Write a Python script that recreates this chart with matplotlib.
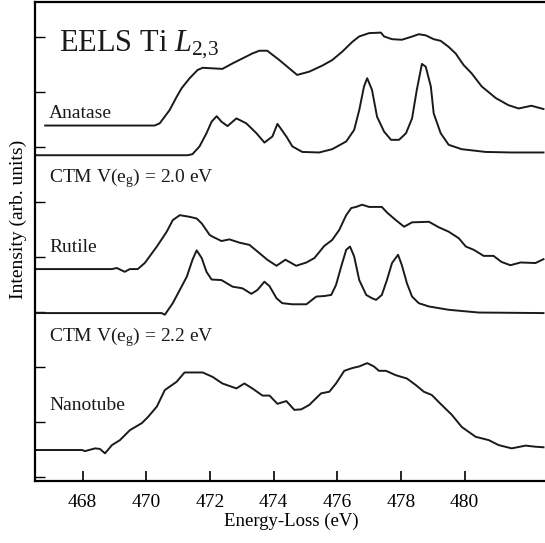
import matplotlib
matplotlib.use("Agg")
import matplotlib.pyplot as plt

# Ti L2,3 EELS spectra, energy in eV, intensity in arb. units (already offset)
anatase_e = [466.82, 470.26, 470.42, 470.73, 470.95, 471.11, 471.36, 471.61, 471.77, 472.08,
             472.39, 472.71, 473.02, 473.33, 473.55, 473.80, 474.18, 474.49, 474.74, 475.12,
             475.53, 475.84, 476.15, 476.47, 476.69, 477.00, 477.37, 477.47, 477.72, 478.03,
             478.31, 478.56, 478.78, 479.03, 479.25, 479.50, 479.72, 479.97, 480.22, 480.54,
             480.98, 481.38, 481.70, 482.10, 482.48]
anatase_i = [6.39, 6.39, 6.43, 6.67, 6.91, 7.07, 7.25, 7.40, 7.44, 7.43,
             7.42, 7.52, 7.61, 7.70, 7.75, 7.75, 7.58, 7.43, 7.31, 7.37,
             7.48, 7.58, 7.73, 7.91, 8.01, 8.07, 8.08, 8.01, 7.96, 7.95,
             8.00, 8.05, 8.03, 7.96, 7.93, 7.82, 7.70, 7.49, 7.34, 7.10,
             6.89, 6.76, 6.70, 6.75, 6.69]

ctm_anatase_e = [466.51, 471.30, 471.45, 471.67, 471.89, 472.05, 472.21, 472.36, 472.55, 472.83,
                 473.14, 473.46, 473.71, 473.96, 474.12, 474.40, 474.59, 474.90, 475.43, 475.84,
                 476.28, 476.53, 476.69, 476.84, 476.94, 477.09, 477.25, 477.47, 477.69, 477.94,
                 478.16, 478.35, 478.50, 478.66, 478.78, 478.94, 479.03, 479.25, 479.50, 479.91,
                 480.66, 481.48, 482.48]
ctm_anatase_i = [5.85, 5.85, 5.87, 6.01, 6.25, 6.46, 6.56, 6.46, 6.38, 6.52,
                 6.43, 6.25, 6.08, 6.19, 6.42, 6.19, 6.01, 5.91, 5.90, 5.96,
                 6.10, 6.31, 6.67, 7.10, 7.25, 7.04, 6.55, 6.28, 6.13, 6.13,
                 6.25, 6.52, 7.04, 7.51, 7.46, 7.10, 6.61, 6.25, 6.04, 5.96,
                 5.91, 5.90, 5.90]

rutile_e = [466.51, 468.92, 469.07, 469.32, 469.48, 469.73, 469.95, 470.33, 470.64, 470.83,
            471.05, 471.36, 471.58, 471.74, 471.99, 472.08, 472.36, 472.61, 472.93, 473.24,
            473.49, 473.80, 474.09, 474.37, 474.71, 475.03, 475.28, 475.59, 475.84, 476.06,
            476.28, 476.44, 476.59, 476.78, 477.00, 477.40, 477.56, 477.84, 478.10, 478.35,
            478.88, 479.19, 479.50, 479.82, 480.04, 480.29, 480.60, 480.91, 481.16, 481.44,
            481.76, 482.23, 482.48]
rutile_i = [3.78, 3.78, 3.80, 3.73, 3.78, 3.78, 3.89, 4.19, 4.46, 4.67,
            4.76, 4.73, 4.70, 4.61, 4.40, 4.37, 4.29, 4.32, 4.26, 4.22,
            4.10, 3.95, 3.84, 3.95, 3.84, 3.90, 3.98, 4.20, 4.31, 4.49,
            4.76, 4.89, 4.91, 4.95, 4.91, 4.91, 4.81, 4.67, 4.55, 4.63,
            4.64, 4.54, 4.46, 4.34, 4.19, 4.13, 4.02, 4.02, 3.91, 3.85,
            3.90, 3.89, 3.96]

ctm_rutile_e = [466.51, 470.48, 470.58, 470.83, 471.05, 471.27, 471.45, 471.58, 471.74, 471.89,
                472.05, 472.36, 472.71, 473.02, 473.30, 473.49, 473.71, 473.87, 474.09, 474.27,
                474.59, 475.03, 475.34, 475.59, 475.81, 475.96, 476.12, 476.28, 476.40, 476.53,
                476.69, 476.91, 477.09, 477.22, 477.40, 477.56, 477.72, 477.91, 478.03, 478.19,
                478.35, 478.56, 478.88, 479.50, 480.44, 482.48]
ctm_rutile_i = [2.98, 2.98, 2.95, 3.16, 3.40, 3.64, 3.95, 4.12, 3.98, 3.73,
                3.59, 3.58, 3.46, 3.43, 3.33, 3.40, 3.55, 3.47, 3.25, 3.16,
                3.14, 3.14, 3.28, 3.29, 3.31, 3.49, 3.82, 4.13, 4.19, 4.01,
                3.58, 3.31, 3.25, 3.22, 3.31, 3.58, 3.89, 4.04, 3.85, 3.52,
                3.28, 3.16, 3.10, 3.04, 2.99, 2.98]

nanotube_e = [466.51, 467.98, 468.07, 468.39, 468.54, 468.70, 468.92, 469.17, 469.48, 469.86,
              470.05, 470.33, 470.58, 470.95, 471.20, 471.45, 471.77, 472.08, 472.39, 472.83,
              473.08, 473.33, 473.65, 473.87, 474.12, 474.40, 474.65, 474.87, 475.12, 475.49,
              475.75, 475.96, 476.22, 476.47, 476.69, 476.94, 477.15, 477.31, 477.53, 477.84,
              478.19, 478.47, 478.72, 478.97, 479.28, 479.60, 479.91, 480.35, 480.76, 481.07,
              481.48, 481.92, 482.23, 482.48]
nanotube_i = [0.49, 0.49, 0.47, 0.52, 0.51, 0.43, 0.58, 0.67, 0.85, 0.98,
              1.09, 1.28, 1.58, 1.73, 1.90, 1.90, 1.90, 1.82, 1.70, 1.61,
              1.70, 1.61, 1.48, 1.48, 1.33, 1.38, 1.22, 1.23, 1.31, 1.52,
              1.55, 1.70, 1.93, 1.98, 2.01, 2.07, 2.01, 1.93, 1.93, 1.85,
              1.79, 1.67, 1.55, 1.49, 1.31, 1.13, 0.91, 0.73, 0.67, 0.58,
              0.52, 0.57, 0.55, 0.54]

x_ticks = [468, 470, 472, 474, 476, 478, 480]
y_ticks = [0, 1, 2, 3, 4, 5, 6, 7, 8]

labels = ["Anatase", "CTM V(e$_\\mathregular{g}$) = 2.0 eV", "Rutile",
          "CTM V(e$_\\mathregular{g}$) = 2.2 eV", "Nanotube"]
label_y = [6.52, 5.35, 4.09, 2.46, 1.22]

plt.rcParams["font.family"] = "Liberation Serif"
plt.rcParams["mathtext.fontset"] = "custom"
plt.rcParams["mathtext.rm"] = "Liberation Serif"
plt.rcParams["mathtext.it"] = "Liberation Serif:italic"

fig = plt.figure(figsize=(5.45, 5.43), dpi=100)
ax = fig.add_axes([0.0642, 0.1133, 0.94, 0.883])

line_kw = dict(color="#1a1a1a", lw=1.4)
for e, i in [(anatase_e, anatase_i), (ctm_anatase_e, ctm_anatase_i),
             (rutile_e, rutile_i), (ctm_rutile_e, ctm_rutile_i),
             (nanotube_e, nanotube_i)]:
    ax.plot(e, i, **line_kw)

for txt, y in zip(labels, label_y):
    ax.text(466.95, y, txt, fontsize=14, color="#1a1a1a", va="baseline")

ax.text(467.27, 7.74, "EELS Ti $\\mathit{L}_{2{,}3}$", fontsize=22, color="#1a1a1a",
        va="baseline")

ax.set_xlim(466.5, 482.6)
ax.set_ylim(-0.082, 8.636)
ax.set_xticks(x_ticks)
ax.set_yticks(y_ticks)
ax.set_yticklabels([])
ax.tick_params(axis="x", direction="in", length=7, width=1.2, labelsize=14, pad=9)
ax.tick_params(axis="y", direction="in", length=7, width=1.0)
ax.spines["right"].set_visible(False)
for s in ["left", "bottom", "top"]:
    ax.spines[s].set_linewidth(1.6)

ax.set_xlabel("Energy-Loss (eV)", fontsize=13.5, labelpad=1)
ax.set_ylabel("Intensity (arb. units)", fontsize=14)
ax.yaxis.set_label_coords(-0.016, 0.547)

fig.savefig("out.png", dpi=100)
